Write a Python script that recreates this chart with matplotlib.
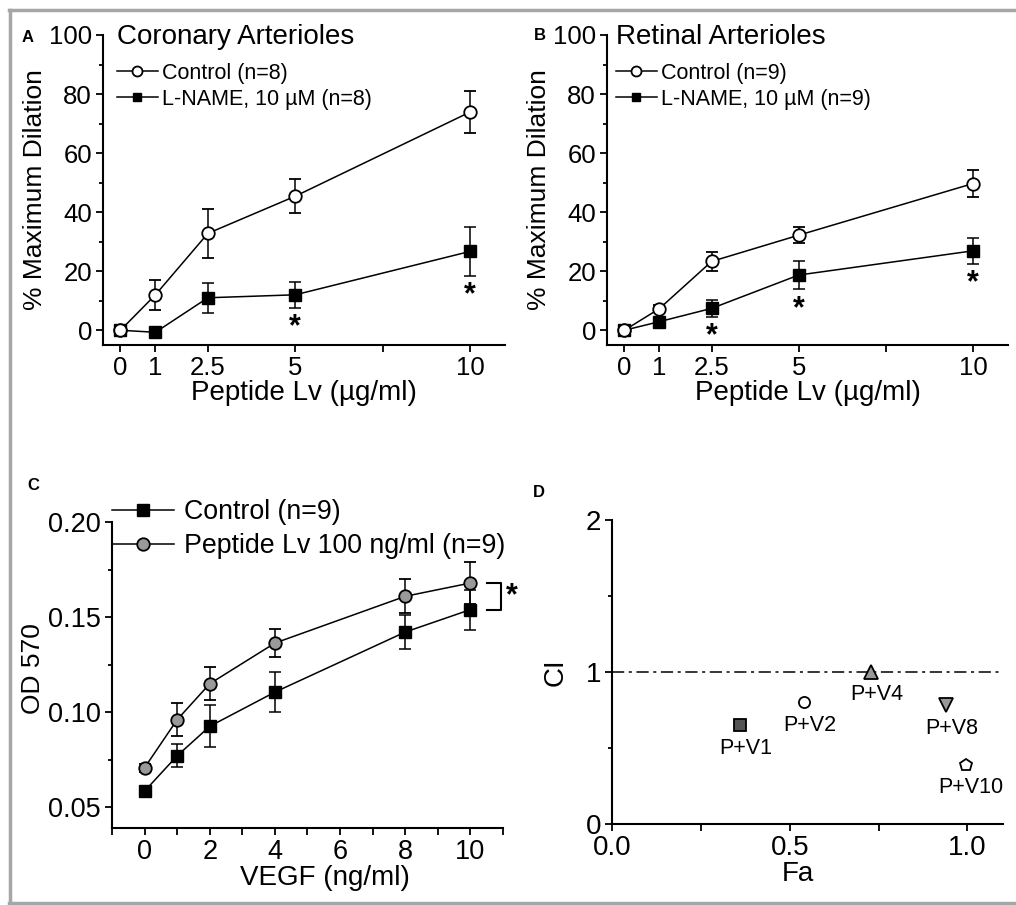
import matplotlib
matplotlib.use("Agg")
import matplotlib.pyplot as plt
from matplotlib.lines import Line2D
from matplotlib.ticker import FixedLocator, MultipleLocator, FormatStrFormatter

plt.rcParams['font.family'] = ['Liberation Sans', 'DejaVu Sans']

# ---- data ----
dose = [0, 1, 2.5, 5, 10]
ctrl_a = [0, 12.0, 32.8, 45.4, 73.9]
ctrl_a_err = [0, 5.0, 8.2, 5.8, 7.0]
lname_a = [0, -0.7, 11.0, 12.0, 26.7]
lname_a_err = [0, 0.8, 5.0, 4.3, 8.2]
stars_a = [3, 4]

ctrl_b = [0, 7.3, 23.3, 32.2, 49.7]
ctrl_b_err = [0, 1.2, 3.1, 2.7, 4.6]
lname_b = [0, 2.9, 7.4, 18.7, 26.9]
lname_b_err = [0, 0.8, 2.8, 4.9, 4.3]
stars_b = [2, 3, 4]

vegf = [0, 1, 2, 4, 8, 10]
ctrl_c = [0.0584, 0.077, 0.0925, 0.1105, 0.1421, 0.1539]
ctrl_c_err = [0.001, 0.006, 0.011, 0.0105, 0.009, 0.0105]
pep_c = [0.0707, 0.096, 0.1149, 0.1363, 0.1609, 0.1679]
pep_c_err = [0.002, 0.0088, 0.0086, 0.0072, 0.009, 0.011]

fa = [0.36, 0.54, 0.73, 0.94, 0.995]
ci = [0.65, 0.80, 1.0, 0.78, 0.39]
combo = ['P+V1', 'P+V2', 'P+V4', 'P+V8', 'P+V10']

W, H = 1016, 905
fig = plt.figure(figsize=(W / 100, H / 100), dpi=100)


def box(l, t, r, b):
    return [l / W, 1 - b / H, (r - l) / W, (b - t) / H]


def fx(x):
    return x / W


def fy(y):
    return 1 - y / H


def style(ax, fs):
    for s in ['top', 'right']:
        ax.spines[s].set_visible(False)
    for s in ['left', 'bottom']:
        ax.spines[s].set_linewidth(1.5)
    ax.tick_params(which='major', direction='out', length=5, width=1.3,
                   labelsize=fs, pad=3)
    ax.tick_params(which='minor', direction='out', length=3, width=1.3)


def dilation_panel(rect, title, lx, ctrl, ctrl_err, lname, lname_err,
                   stars, n):
    ax = fig.add_axes(rect)
    style(ax, 18.5)
    e2 = ax.errorbar(dose, lname, yerr=lname_err, color='black', lw=1.1,
                     marker='s', ms=8, mfc='black', mec='black',
                     capsize=4.5, capthick=1.1, elinewidth=1.1)
    e1 = ax.errorbar(dose, ctrl, yerr=ctrl_err, color='black', lw=1.1,
                     marker='o', ms=9, mfc='white', mec='black', mew=1.3,
                     capsize=4.5, capthick=1.1, elinewidth=1.1)
    ax.plot(dose[0], ctrl[0], 'o', ms=9, color='black')
    for i in stars:
        ax.text(dose[i], lname[i] - lname_err[i] - 1.5, '*', ha='center',
                va='top', fontsize=22, fontweight='bold')
    ax.set_xlim(-0.5, 11)
    ax.set_ylim(-5, 100)
    ax.xaxis.set_major_locator(FixedLocator(dose))
    ax.xaxis.set_minor_locator(FixedLocator([7.5]))
    ax.set_xticklabels(['0', '1', '2.5', '5', '10'])
    ax.yaxis.set_major_locator(MultipleLocator(20))
    ax.yaxis.set_minor_locator(MultipleLocator(10))
    ax.tick_params(axis='x', which='both', length=5)
    ax.set_xlabel('Peptide Lv (\u00b5g/ml)', fontsize=20, labelpad=0)
    ax.set_ylabel('% Maximum Dilation', fontsize=19, labelpad=1)
    ax.legend([e1.lines[0], e2.lines[0]],
              ['Control (n=%d)' % n, 'L-NAME, 10 \u00b5M (n=%d)' % n],
              loc='upper left', bbox_to_anchor=(fx(lx), fy(63)),
              bbox_transform=fig.transFigure, frameon=False, fontsize=15.5,
              borderpad=0, borderaxespad=0, handlelength=1.9,
              handletextpad=0.2, labelspacing=0.22, markerscale=0.8)
    fig.text(fx(lx), fy(37), title, fontsize=20, ha='left', va='center')
    return ax


axA = dilation_panel(box(103, 35, 505, 345), 'Coronary Arterioles', 117,
                     ctrl_a, ctrl_a_err, lname_a, lname_a_err, stars_a, 8)
axB = dilation_panel(box(607, 35, 1008, 345), 'Retinal Arterioles', 616,
                     ctrl_b, ctrl_b_err, lname_b, lname_b_err, stars_b, 9)
fig.text(fx(28), fy(37), 'A', fontsize=12, fontweight='bold', ha='center', va='center')
fig.text(fx(540), fy(36), 'B', fontsize=12, fontweight='bold', ha='center', va='center')

# ---- panel C ----
axC = fig.add_axes(box(112, 522, 503, 828))
style(axC, 19.5)
c1 = axC.errorbar(vegf, ctrl_c, yerr=ctrl_c_err, color='black', lw=1.1,
                  marker='s', ms=8, mfc='black', mec='black',
                  capsize=4, capthick=1.1, elinewidth=1.1)
c2 = axC.errorbar(vegf, pep_c, yerr=pep_c_err, color='black', lw=1.1,
                  marker='o', ms=9, mfc='#999999', mec='black', mew=1.3,
                  capsize=4, capthick=1.1, elinewidth=1.1)
axC.set_xlim(-1, 11)
axC.set_ylim(0.039, 0.2)
axC.xaxis.set_major_locator(MultipleLocator(2))
axC.xaxis.set_minor_locator(MultipleLocator(1))
axC.yaxis.set_major_locator(MultipleLocator(0.05))
axC.yaxis.set_minor_locator(MultipleLocator(0.025))
axC.yaxis.set_major_formatter(FormatStrFormatter('%.2f'))
axC.tick_params(axis='x', which='both', length=5)
axC.set_xlabel('VEGF (ng/ml)', fontsize=20, labelpad=0)
axC.xaxis.label.set_x(0.545)
axC.set_ylabel('OD 570', fontsize=19, labelpad=2)
axC.yaxis.label.set_y(0.52)
# significance bracket between the last points
bx0, bx1 = vegf[-1] + 0.5, vegf[-1] + 0.95
axC.plot([bx0, bx1, bx1, bx0], [pep_c[-1], pep_c[-1], ctrl_c[-1], ctrl_c[-1]],
         color='black', lw=1.5, clip_on=False)
axC.text(bx1 + 0.15, (pep_c[-1] + ctrl_c[-1]) / 2, '*', fontsize=22,
         fontweight='bold', ha='left', va='center', clip_on=False)
axC.legend([c1.lines[0], c2.lines[0]],
           ['Control (n=9)', 'Peptide Lv 100 ng/ml (n=9)'],
           loc='upper left', bbox_to_anchor=(fx(112), fy(499)),
           bbox_transform=fig.transFigure, frameon=False, fontsize=19.3,
           borderpad=0, borderaxespad=0, handlelength=2.3,
           handletextpad=0.4, labelspacing=0.3)
fig.text(fx(33), fy(485), 'C', fontsize=12, fontweight='bold', ha='center', va='center')

# ---- panel D ----
axD = fig.add_axes(box(612, 520, 1003, 824))
style(axD, 20)
axD.axhline(1, color='black', lw=1.1, ls=(0, (8, 3, 2, 3)))
d_styles = [dict(marker='s', mfc='#555555', ms=8),
            dict(marker='o', mfc='white', ms=8),
            dict(marker='^', mfc='#999999', ms=10),
            dict(marker='v', mfc='#999999', ms=10),
            dict(marker='p', mfc='white', ms=9)]
for x, y, lab, st in zip(fa, ci, combo, d_styles):
    axD.plot(x, y, ls='none', mec='black', mew=1.3, clip_on=False, **st)
    axD.annotate(lab, (x, y), xytext=(4, -16.5), textcoords='offset points',
                 ha='center', va='center', fontsize=15.5)
axD.set_xlim(0, 1.1)
axD.set_ylim(0, 2)
axD.xaxis.set_major_locator(MultipleLocator(0.5))
axD.xaxis.set_minor_locator(MultipleLocator(0.25))
axD.yaxis.set_major_locator(MultipleLocator(1))
axD.yaxis.set_minor_locator(MultipleLocator(0.5))
axD.xaxis.set_major_formatter(FormatStrFormatter('%.1f'))
axD.tick_params(axis='x', which='both', length=5)
axD.set_xlabel('Fa', fontsize=20, labelpad=0)
axD.xaxis.label.set_x(0.476)
axD.set_ylabel('CI', fontsize=20, labelpad=12)
fig.text(fx(539), fy(492), 'D', fontsize=12, fontweight='bold', ha='center', va='center')

# gray frame
fr = dict(color='#a6a6a6', lw=2.5, transform=fig.transFigure)
fig.add_artist(Line2D([fx(10), fx(10)], [fy(10), fy(903)], **fr))
fig.add_artist(Line2D([fx(9), 1], [fy(10), fy(10)], **fr))
fig.add_artist(Line2D([fx(9), 1], [fy(903), fy(903)], **fr))

fig.savefig('out.png', dpi=100)
